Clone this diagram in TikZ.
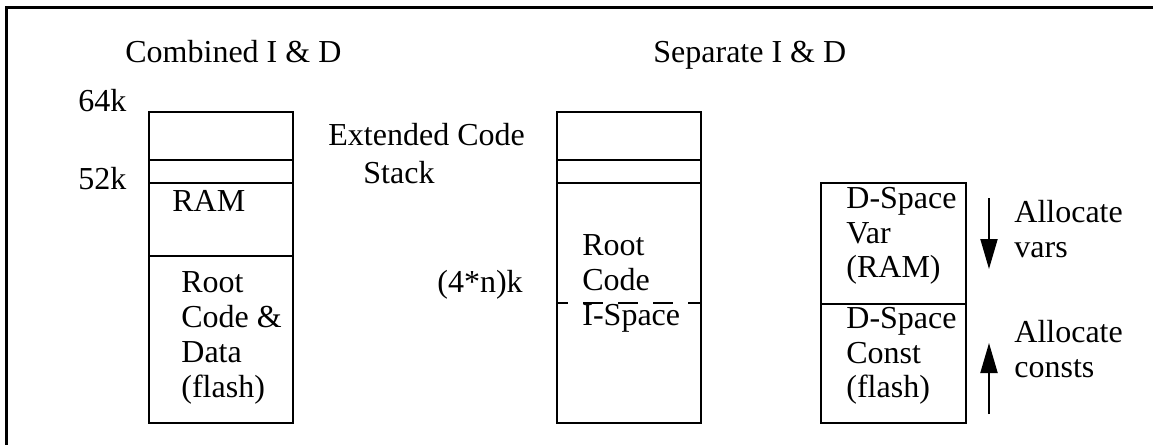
\documentclass[tikz,border=0pt]{standalone}
\usepackage{fontspec}
\setmainfont{Liberation Serif}
\usetikzlibrary{arrows.meta}
\begin{document}
\begin{tikzpicture}[x=0.5pt,y=-0.5pt,
  lbl/.style={anchor=base west,inner sep=0pt,font=\fontsize{16}{17.5}\selectfont},
  mem/.style={line width=1pt},
  frameline/.style={line width=1.5pt},
  divider/.style={line width=1pt,dash pattern=on 10pt off 7.5pt,dash phase=4.5pt},
  alloc/.style={line width=1pt,-{Triangle[length=15pt,width=8.5pt]}}]
\useasboundingbox (0,0) rectangle (1153,445);
% frame (top and left only)
\draw[frameline] (6.5,445) -- (6.5,7.5) -- (1153,7.5);
% headings
\node[lbl] (hcomb) at (125,62) {Combined I \& D};
\node[lbl] (hsep) at (653,62) {Separate I \& D};
% combined box
\draw[mem] (149,112) rectangle (293,423);
\draw[mem] (149,160) -- (293,160);
\draw[mem] (149,183) -- (293,183);
\draw[mem] (149,256) -- (293,256);
\node[lbl] (k64) at (78,111) {64k};
\node[lbl] (k52) at (78,189) {52k};
\node[lbl] (ram) at (172,211) {RAM};
\node[lbl] (r1) at (181,292) {Root};
\node[lbl] (r2) at (181,327) {Code \&};
\node[lbl] (r3) at (181,362) {Data};
\node[lbl] (r4) at (181,397) {(flash)};
% extended code stack label
\node[lbl] (ext) at (328,145) {Extended Code};
\node[lbl] (stk) at (363,183) {Stack};
% separate box
\draw[mem] (557,112) rectangle (701,423);
\draw[mem] (557,160) -- (701,160);
\draw[mem] (557,183) -- (701,183);
\draw[divider] (557,303) -- (701,303);
\node[lbl] (nk) at (437,292) {(4*n)k};
\node[lbl] (s1) at (582,255) {Root};
\node[lbl] (s2) at (582,290) {Code};
\node[lbl] (s3) at (582,325) {I-Space};
% D-space box
\draw[mem] (821,183) rectangle (966,423);
\draw[mem] (821,304) -- (966,304);
\node[lbl] (d1) at (846,208) {D-Space};
\node[lbl] (d2) at (846,243) {Var};
\node[lbl] (d3) at (846,277) {(RAM)};
\node[lbl] (d4) at (846,328) {D-Space};
\node[lbl] (d5) at (846,363) {Const};
\node[lbl] (d6) at (846,397) {(flash)};
% allocation arrows
\coordinate (vtop) at (989,198);
\coordinate (vtip) at (989,269);
\coordinate (cbot) at (989,414);
\coordinate (ctip) at (989,343);
\draw[alloc] (vtop) -- (vtip);
\draw[alloc] (cbot) -- (ctip);
\node[lbl] (a1) at (1014,222) {Allocate};
\node[lbl] (a2) at (1014,257) {vars};
\node[lbl] (a3) at (1014,342) {Allocate};
\node[lbl] (a4) at (1014,377) {consts};
\end{tikzpicture}
\end{document}
